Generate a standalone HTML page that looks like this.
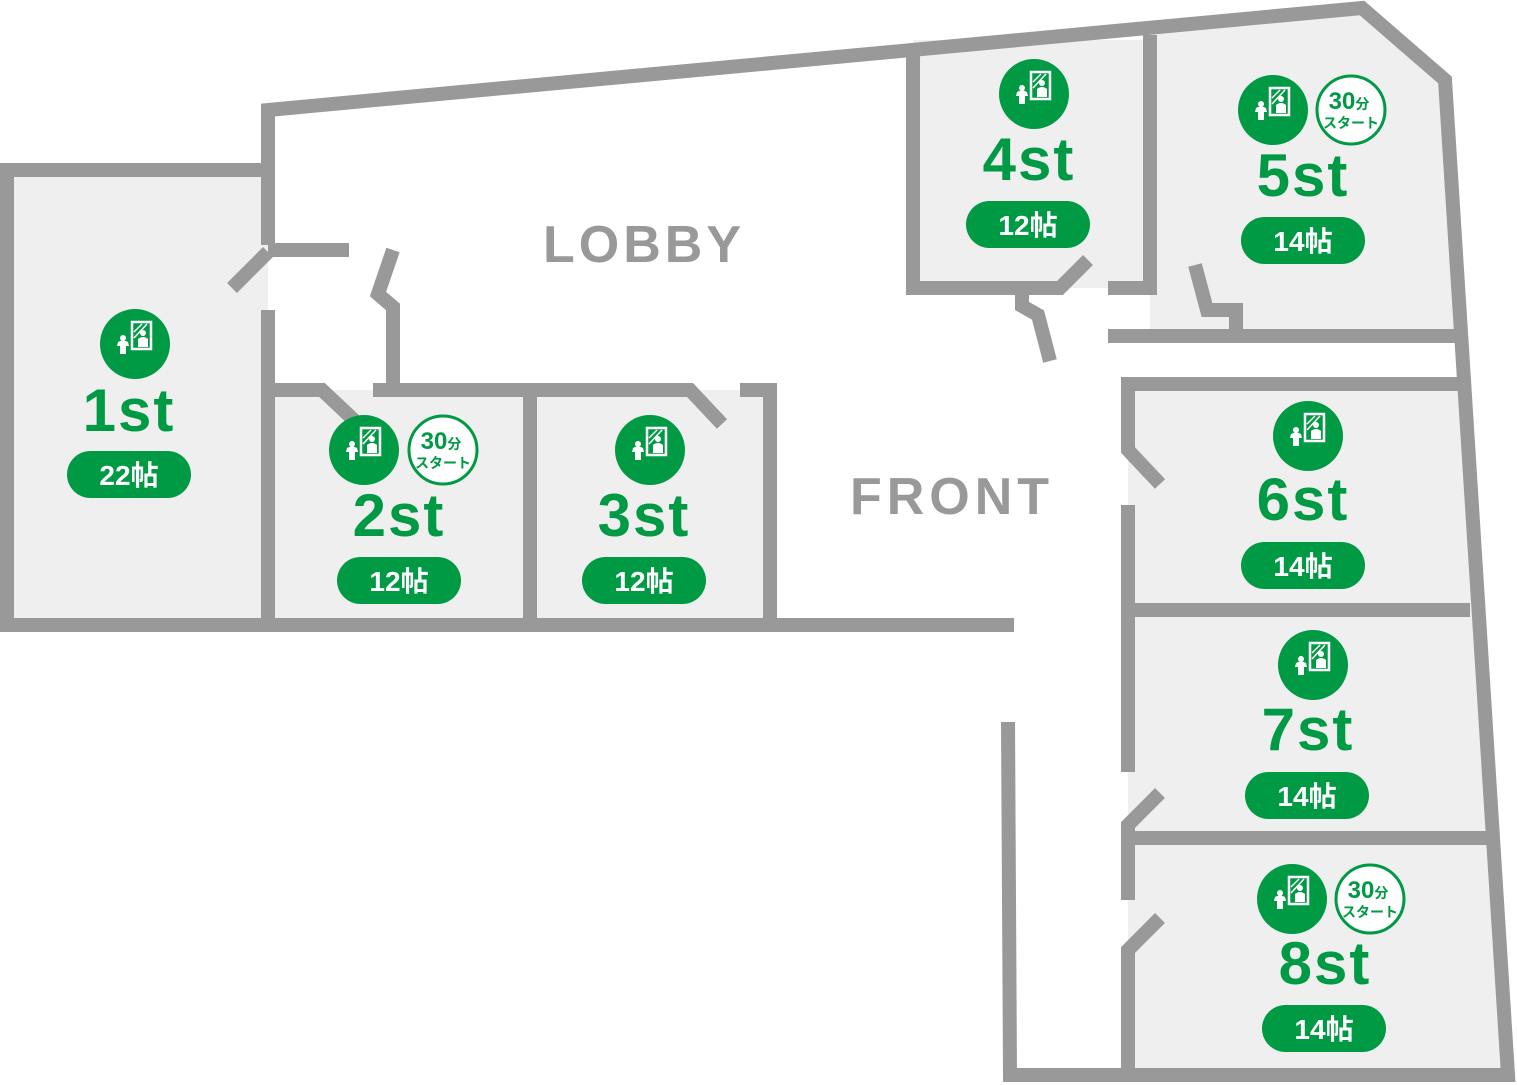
<!DOCTYPE html>
<html><head><meta charset="utf-8"><style>
html,body{margin:0;padding:0;background:#fff;}
svg{display:block}
.t{font-family:"Liberation Sans","Noto Sans CJK JP",sans-serif;font-weight:bold;}
</style></head><body>
<svg width="1517" height="1085" viewBox="0 0 1517 1085" xmlns="http://www.w3.org/2000/svg">
<defs>
<g id="ic">
<circle r="35" fill="#009a44"/>
<rect x="-3" y="-22" width="19" height="27" fill="none" stroke="#fff" stroke-width="2.5"/>
<line x1="-1" y1="-12" x2="7" y2="-20" stroke="#fff" stroke-width="1.5"/>
<line x1="-1" y1="-6" x2="12" y2="-20" stroke="#fff" stroke-width="1.5"/>
<circle cx="8" cy="-11" r="3" fill="#fff"/>
<path d="M3,3 L3,-5 Q8,-9 13,-5 L13,3 Z" fill="#fff"/>
<circle cx="-12" cy="-6" r="3" fill="#fff"/>
<path d="M-18,2 L-17,-2 Q-12,-5 -7,-2 L-6,2 L-9,2 L-9,10 L-15,10 L-15,2 Z" fill="#fff"/>
</g>
<g id="b30">
<circle r="34" fill="#fff" stroke="#009a44" stroke-width="3"/>
<text class="t" x="-2" y="-1" font-size="24" fill="#009a44" text-anchor="middle">30<tspan font-size="14">分</tspan></text>
<text class="t" x="0" y="18" font-size="14" fill="#009a44" text-anchor="middle">スタート</text>
</g>
</defs>
<g fill="#efefef">
<rect x="7" y="170" width="261" height="455"/>
<rect x="268" y="390" width="502" height="235"/>
<rect x="913" y="40" width="237" height="248"/>
<polygon points="1150,35 1362,15 1445,82 1455,336 1150,336"/>
<polygon points="1128,384 1458,384 1508,1075 1128,1075"/>
</g>
<g fill="none" stroke="#999" stroke-width="14" stroke-linejoin="miter">
<polyline points="268,245 268,110 1362,8 1445,80 1508,1075 1010,1075 1008,722"/>
<polyline points="268,170 7,170 7,625 1014,625"/>
<line x1="268" y1="310" x2="268" y2="625"/>
<line x1="232" y1="288" x2="268" y2="252"/>
<line x1="268" y1="250" x2="349" y2="250"/>
<polyline points="268,390 322,390 356,422"/>
<polyline points="373,390 690,390 722,424"/>
<polyline points="740,390 770,390 770,625"/>
<polyline points="393,390 393,307 378,294 393,250"/>
<line x1="530" y1="390" x2="530" y2="625"/>
<polyline points="913,55 913,288 1060,288 1088,260"/>
<polyline points="1108,288 1150,288 1150,35"/>
<polyline points="1022,290 1022,306 1038,315 1050,361"/>
<line x1="1108" y1="336" x2="1455" y2="336"/>
<polyline points="1236,336 1236,310 1207,310 1195,265"/>
<polyline points="1458,384 1128,384 1128,450 1160,484"/>
<line x1="1128" y1="505" x2="1128" y2="772"/>
<line x1="1128" y1="610" x2="1470" y2="610"/>
<polyline points="1160,793 1128,825 1128,900"/>
<line x1="1128" y1="838" x2="1488" y2="838"/>
<polyline points="1160,918 1128,950 1128,1075"/>
</g>
<text class="t" x="644" y="262" font-size="52" fill="#999" text-anchor="middle" letter-spacing="4">LOBBY</text>
<text class="t" x="952" y="514" font-size="52" fill="#999" text-anchor="middle" letter-spacing="5">FRONT</text>
<g class="t" fill="#009a44" font-size="60" text-anchor="middle" letter-spacing="2">
<text x="129" y="431">1st</text>
<text x="399" y="536">2st</text>
<text x="644" y="536">3st</text>
<text x="1029" y="180">4st</text>
<text x="1303" y="196">5st</text>
<text x="1303" y="520">6st</text>
<text x="1308" y="750">7st</text>
<text x="1325" y="984">8st</text>
</g>
<g fill="#009a44">
<rect x="67" y="451" width="124" height="47" rx="23.5"/>
<rect x="337" y="557" width="124" height="47" rx="23.5"/>
<rect x="582" y="557" width="124" height="47" rx="23.5"/>
<rect x="966" y="201" width="124" height="47" rx="23.5"/>
<rect x="1241" y="217" width="124" height="47" rx="23.5"/>
<rect x="1241" y="542" width="124" height="47" rx="23.5"/>
<rect x="1245" y="772" width="124" height="47" rx="23.5"/>
<rect x="1262" y="1005" width="124" height="47" rx="23.5"/>
</g>
<g class="t" fill="#fff" font-size="28" text-anchor="middle">
<text x="129" y="485">22帖</text>
<text x="399" y="591">12帖</text>
<text x="644" y="591">12帖</text>
<text x="1028" y="235">12帖</text>
<text x="1303" y="251">14帖</text>
<text x="1303" y="576">14帖</text>
<text x="1307" y="806">14帖</text>
<text x="1324" y="1039">14帖</text>
</g>
<use href="#ic" x="135" y="344"/>
<use href="#ic" x="364" y="450"/>
<use href="#b30" x="443" y="450"/>
<use href="#ic" x="650" y="450"/>
<use href="#ic" x="1034" y="94"/>
<use href="#ic" x="1273" y="110"/>
<use href="#b30" x="1351" y="110"/>
<use href="#ic" x="1308" y="436"/>
<use href="#ic" x="1313" y="665"/>
<use href="#ic" x="1292" y="899"/>
<use href="#b30" x="1370" y="899"/>
</svg>
</body></html>
